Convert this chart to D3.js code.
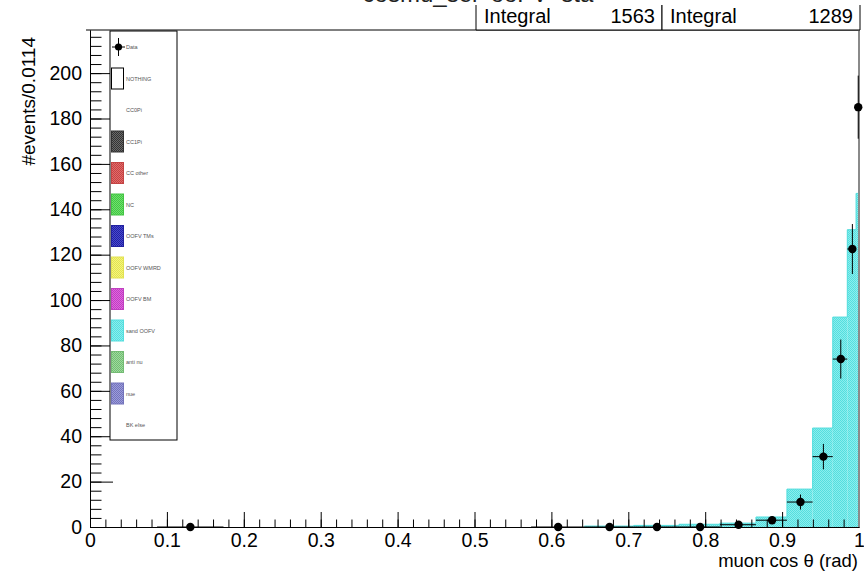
<!DOCTYPE html>
<html>
<head>
<meta charset="utf-8">
<script src="https://cdn.jsdelivr.net/npm/d3@7"></script>
<style>
body { margin: 0; background: #fff; }
text { font-family: "Liberation Sans", Helvetica, Arial, sans-serif; }
</style>
</head>
<body>
<div id="chart-area"></div>
<script>

var width = 864;
var height = 572;
var frame = {left: 90, right: 859, top: 30, bottom: 527};

// MC stack (only sand OOFV is visible), bins in cos(theta), 5 degree steps
var mcLow  = [0.9962, 0.9848, 0.9659, 0.9397, 0.9063, 0.8660, 0.8192, 0.7660, 0.7071, 0.6428];
var mcHigh = [1.0000, 0.9962, 0.9848, 0.9659, 0.9397, 0.9063, 0.8660, 0.8192, 0.7660, 0.7071];
var mcValue = [147, 131, 92.5, 43.6, 16.7, 4.4, 1.7, 1.2, 0.7, 0.4];

// data points
var dataX    = [0.9990, 0.9914, 0.9763, 0.9537, 0.9239, 0.8870, 0.8434, 0.7934, 0.7373, 0.6756, 0.6088, 0.1305];
var dataLow  = [0.9962, 0.9848, 0.9659, 0.9397, 0.9063, 0.8660, 0.8192, 0.7660, 0.7071, 0.6428, 0.5736, 0.0872];
var dataHigh = [1.0000, 0.9962, 0.9848, 0.9659, 0.9397, 0.9063, 0.8660, 0.8192, 0.7660, 0.7071, 0.6428, 0.1736];
var dataY    = [185, 122.5, 74, 31, 11, 3, 1, 0, 0, 0, 0, 0];
var dataErr  = [13.9, 11, 8.6, 5.6, 3.3, 1.7, 1, 0, 0, 0, 0, 0];

var xTicks = [0, 0.1, 0.2, 0.3, 0.4, 0.5, 0.6, 0.7, 0.8, 0.9, 1];
var yTicks = [0, 20, 40, 60, 80, 100, 120, 140, 160, 180, 200];

var legendNames = ["Data", "NOTHING", "CC0Pi", "CC1Pi", "CC other", "NC", "OOFV TMs", "OOFV WMRD",
	"OOFV BM", "sand OOFV", "anti nu", "nue", "BK else"];
var legendColors = [null, "white", null, ["#6a6a6a", "#333"], ["#e36a6a", "#c44444"], ["#6ee36e", "#44c444"],
	["#4848d0", "#2222a0"], ["#f6f67c", "#e2e252"], ["#e064e0", "#c040c0"], ["#8aeeee", "#55dede"],
	["#9ddc9d", "#74bb74"], ["#9c9cdc", "#7474bb"], null];

var integrals = [1563, 1289];

var svg = d3.select("#chart-area")
	.append("svg")
		.attr("width", width)
		.attr("height", height)
		.style("background-color", "white");

var defs = svg.append("defs");
function makePattern(id, c) {
	var p = defs.append("pattern")
		.attr("id", id)
		.attr("patternUnits", "userSpaceOnUse")
		.attr("width", 2).attr("height", 2);
	p.append("rect").attr("width", 2).attr("height", 2).attr("fill", c[0]);
	p.append("rect").attr("width", 1).attr("height", 1).attr("fill", c[1]);
	p.append("rect").attr("x", 1).attr("y", 1).attr("width", 1).attr("height", 1).attr("fill", c[1]);
}
legendColors.forEach((c, i) => {
	if (Array.isArray(c)) makePattern("pat" + i, c);
});

var x = d3.scaleLinear().domain([0, 1]).range([frame.left, frame.right]);
var y = d3.scaleLinear().domain([0, 219]).range([frame.bottom, frame.top]);

// title (mostly cut off above the picture)
svg.append("text")
	.attr("x", 478)
	.attr("y", 2)
	.attr("text-anchor", "middle")
	.attr("font-size", "24px")
	.style("fill", "#222")
	.text("cosmu_sel_ooFV_sta");

// MC histogram
var mc = mcValue.map((v, i) => ({lo: mcLow[i], hi: mcHigh[i], v: v}));
svg.append("g").selectAll("rect")
	.data(mc)
	.enter()
	.append("rect")
		.attr("x", (d) => x(d.lo))
		.attr("y", (d) => y(d.v))
		.attr("width", (d) => x(d.hi) - x(d.lo))
		.attr("height", (d) => y(0) - y(d.v))
		.attr("fill", "url(#pat9)");

// outline of histogram
var stepPts = [];
mc.slice().reverse().forEach((d) => {
	stepPts.push([x(d.lo), y(d.v)]);
	stepPts.push([x(d.hi), y(d.v)]);
});
svg.append("path")
	.attr("d", d3.line()(stepPts))
	.attr("fill", "none")
	.attr("stroke", "#4fdcdc")
	.attr("stroke-width", 1);

// axes
var xAxis = d3.axisBottom(x).tickValues(xTicks).tickSize(-15).tickSizeOuter(0).tickPadding(6)
	.tickFormat((d) => d3.format("")(d));
var xMinor = d3.axisBottom(x).tickValues(d3.range(0, 51).map((i) => i / 50)).tickSize(-7.5).tickSizeOuter(0).tickFormat("");
var yAxis = d3.axisLeft(y).tickValues(yTicks).tickSize(-23).tickSizeOuter(0).tickPadding(8);
var yMinor = d3.axisLeft(y).tickValues(d3.range(0, 55).map((i) => i * 4)).tickSize(-11.5).tickSizeOuter(0).tickFormat("");

function styleAxis(g) {
	g.selectAll("line").attr("stroke", "#000");
	g.select(".domain").attr("stroke", "#000");
	g.selectAll("text").attr("font-size", "19.5px").style("fill", "#000")
		.attr("font-family", "'Liberation Sans', Helvetica, Arial, sans-serif");
}

svg.append("g").attr("transform", "translate(0," + frame.bottom + ")").call(xMinor).call(styleAxis);
svg.append("g").attr("transform", "translate(0," + frame.bottom + ")").call(xAxis).call(styleAxis);
svg.append("g").attr("transform", "translate(" + frame.left + ",0)").call(yMinor).call(styleAxis);
svg.append("g").attr("transform", "translate(" + frame.left + ",0)").call(yAxis).call(styleAxis);

// frame top and right
svg.append("line")
	.attr("x1", 86).attr("x2", frame.right + 1)
	.attr("y1", frame.top).attr("y2", frame.top)
	.attr("stroke", "#000");
svg.append("line")
	.attr("x1", frame.right).attr("x2", frame.right)
	.attr("y1", frame.top).attr("y2", frame.bottom)
	.attr("stroke", "#8a8a8a").attr("stroke-width", 2);

// axis titles
svg.append("text")
	.attr("x", frame.right - 1)
	.attr("y", 567)
	.attr("text-anchor", "end")
	.attr("font-size", "18.5px")
	.text("muon cos \u03b8 (rad)");
svg.append("text")
	.attr("transform", "rotate(-90)")
	.attr("x", -37)
	.attr("y", 35)
	.attr("text-anchor", "end")
	.attr("font-size", "19px")
	.text("#events/0.0114");

// data points with errors
var pts = dataX.map((v, i) => ({x: v, lo: dataLow[i], hi: dataHigh[i], y: dataY[i], e: dataErr[i]}));
var pg = svg.append("g");
pg.selectAll(".hbar").data(pts).enter().append("line")
	.attr("x1", (d) => x(d.lo)).attr("x2", (d) => x(d.hi))
	.attr("y1", (d) => y(d.y)).attr("y2", (d) => y(d.y))
	.attr("stroke", "#000");
pg.selectAll(".vbar").data(pts.filter((d) => d.e > 0)).enter().append("line")
	.attr("x1", (d) => x(d.x)).attr("x2", (d) => x(d.x))
	.attr("y1", (d) => y(d.y + d.e)).attr("y2", (d) => y(d.y - d.e))
	.attr("stroke", "#000");
pg.selectAll("circle").data(pts).enter().append("circle")
	.attr("cx", (d) => x(d.x)).attr("cy", (d) => y(d.y))
	.attr("r", 4.2)
	.attr("fill", "#000");

// legend
var leg = svg.append("g");
leg.append("rect")
	.attr("x", 110).attr("y", 31)
	.attr("width", 67).attr("height", 409)
	.attr("fill", "white").attr("stroke", "#000");
legendNames.forEach((name, i) => {
	var cy = 47 + i * 31.5;
	var c = legendColors[i];
	if (i === 0) {
		leg.append("line").attr("x1", 112).attr("x2", 125).attr("y1", cy).attr("y2", cy).attr("stroke", "#000");
		leg.append("line").attr("x1", 118.5).attr("x2", 118.5).attr("y1", cy - 9).attr("y2", cy + 9).attr("stroke", "#000");
		leg.append("circle").attr("cx", 118.5).attr("cy", cy).attr("r", 3.6).attr("fill", "#000");
	} else if (c === "white") {
		leg.append("rect").attr("x", 111.5).attr("y", cy - 10.5).attr("width", 12).attr("height", 21)
			.attr("fill", "white").attr("stroke", "#000");
	} else if (c) {
		leg.append("rect").attr("x", 111.5).attr("y", cy - 10.5).attr("width", 12).attr("height", 21)
			.attr("fill", "url(#pat" + i + ")").attr("stroke", c[1]);
	}
	leg.append("text")
		.attr("x", 126).attr("y", cy + 2)
		.attr("font-size", "5.5px")
		.style("fill", "#555")
		.text(name);
});

// stat boxes (top edge sits just under the clipped title)
var boxX = [476, 662, 860];
var boxTop = 5;
integrals.forEach((v, i) => {
	svg.append("rect")
		.attr("x", boxX[i]).attr("y", boxTop)
		.attr("width", boxX[i + 1] - boxX[i]).attr("height", frame.top - boxTop)
		.attr("fill", "white").attr("stroke", "none");
	svg.append("path")
		.attr("d", "M" + boxX[i] + "," + boxTop + "V" + frame.top + "H" + boxX[i + 1] + "V" + boxTop)
		.attr("fill", "none").attr("stroke", "#000");
	svg.append("text")
		.attr("x", boxX[i] + 8).attr("y", 23)
		.attr("font-size", "20px")
		.text("Integral");
	svg.append("text")
		.attr("x", boxX[i + 1] - 7).attr("y", 23)
		.attr("text-anchor", "end")
		.attr("font-size", "20px")
		.text(v);
});

</script>
</body>
</html>
